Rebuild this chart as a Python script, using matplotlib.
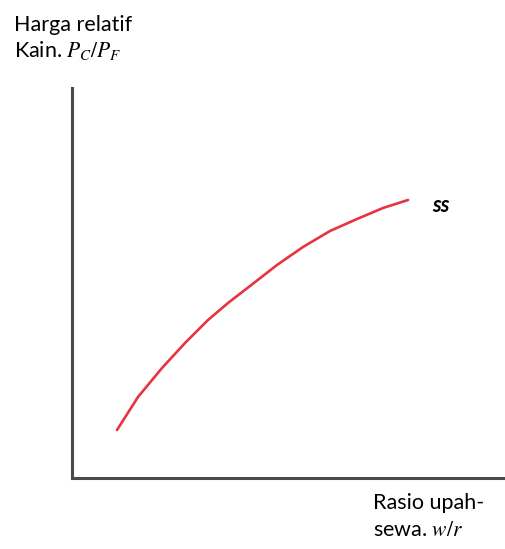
import matplotlib
matplotlib.use("Agg")
import matplotlib.pyplot as plt

# Relative supply curve SS: wage-rent ratio vs. relative cloth price (arbitrary units)
wage_rent = [45, 66, 90, 113, 136, 156, 178, 205, 231, 258, 285, 311, 336]
rel_price = [48, 81, 110, 135, 158, 175, 192, 213, 231, 247, 259, 270, 278]

x_max, y_max = 434, 390

plt.rcParams["mathtext.fontset"] = "stix"
plt.rcParams["font.family"] = ["Lato", "DejaVu Sans"]

W, H = 506, 549
fig = plt.figure(figsize=(W / 100, H / 100), dpi=100)
ax = fig.add_axes([72 / W, (H - 478) / H, (W - 72) / W, (478 - 88) / H])

ax.plot(wage_rent, rel_price, color="#e63440", lw=1.9,
        solid_capstyle="round", solid_joinstyle="round")

ax.set_xlim(0, x_max)
ax.set_ylim(0, y_max)
for side in ("top", "right"):
    ax.spines[side].set_visible(False)
for side in ("left", "bottom"):
    ax.spines[side].set_color("#4a4a4a")
    ax.spines[side].set_linewidth(2.2)
ax.set_xticks([])
ax.set_yticks([])

fs = 15.5
fig.text(14 / W, 1 - 25 / H, "Harga relatif", fontsize=fs, va="center", ha="left")
fig.text(14 / W, 1 - 51 / H, r"Kain. $P_C/P_F$", fontsize=fs, va="center", ha="left")
fig.text(432 / W, 1 - 205 / H, "ss", fontsize=fs, fontweight="bold", fontstyle="italic",
         va="center", ha="left")
fig.text(373 / W, 1 - 503 / H, "Rasio upah-", fontsize=fs, va="center", ha="left")
fig.text(373 / W, 1 - 530 / H, r"sewa. $w/r$", fontsize=fs, va="center", ha="left")

fig.savefig("out.png", dpi=100)
